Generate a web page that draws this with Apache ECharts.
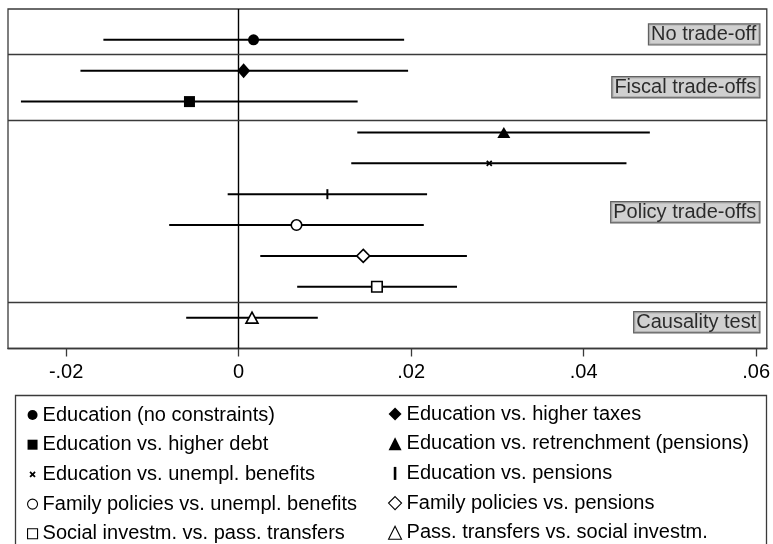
<!DOCTYPE html>
<html>
<head>
<meta charset="utf-8">
<script src="https://cdn.jsdelivr.net/npm/echarts@6/dist/echarts.min.js"></script>
<style>
html,body{margin:0;padding:0;background:#fff;}
#chart{width:773px;height:544px;}
</style>
</head>
<body>
<div id="chart"></div>
<script>
// ---- data ----
const seriesNames = [
  'Education (no constraints)',
  'Education vs. higher taxes',
  'Education vs. higher debt',
  'Education vs. retrenchment (pensions)',
  'Education vs. unempl. benefits',
  'Education vs. pensions',
  'Family policies vs. unempl. benefits',
  'Family policies vs. pensions',
  'Social investm. vs. pass. transfers',
  'Pass. transfers vs. social investm.'
];
const estimates = [0.00173, 0.00058, -0.00570, 0.03075, 0.02906, 0.01029, 0.00671, 0.01445, 0.01604, 0.00155];
const ciLow     = [-0.01568, -0.01834, -0.02524, 0.01376, 0.01306, -0.00127, -0.00805, 0.00251, 0.00679, -0.00608];
const ciHigh    = [0.01919, 0.01965, 0.01380, 0.04768, 0.04497, 0.02185, 0.02147, 0.02647, 0.02532, 0.00918];
const rowPos    = [1, 2, 3, 4, 5, 6, 7, 8, 9, 10];
const groupNames  = ['No trade-off', 'Fiscal trade-offs', 'Policy trade-offs', 'Causality test'];
const groupBounds = [0, 1.45, 3.62, 9.49, 11];
const tickValues = [-0.02, 0, 0.02, 0.04, 0.06];
const tickLabels = ['-.02', '0', '.02', '.04', '.06'];
const xMin = -0.02674, xMax = 0.06124;

// ---- styles ----
const FONT = '"Liberation Sans", Arial, Helvetica, sans-serif';
const xPath = 'path://M-3,-3M13,13M0,2L2,0L5,3L8,0L10,2L7,5L10,8L8,10L5,7L2,10L0,8L3,5Z';
const barPath = 'path://M-4,0M6,10M0,0L2,0L2,10L0,10Z';
const markerStyles = [
  {symbol: 'circle', size: 11, fill: true},
  {symbol: 'diamond', size: [13, 15], fill: true},
  {symbol: 'rect', size: 11, fill: true},
  {symbol: 'triangle', size: [13, 11], fill: true},
  {symbol: xPath, size: 10, fill: true},
  {symbol: barPath, size: 10, fill: true},
  {symbol: 'circle', size: 10.5, fill: false},
  {symbol: 'diamond', size: [13, 13], fill: false},
  {symbol: 'rect', size: 10.5, fill: false},
  {symbol: 'triangle', size: [12, 11], fill: false}
];
const labelOffsets = [3, 0, 1, -3];

const chart = echarts.init(document.getElementById('chart'), null, {renderer: 'canvas'});

const ciData = rowPos.map((y, i) => [ciLow[i], ciHigh[i], y]);

const pointSeries = seriesNames.map((name, i) => {
  const st = markerStyles[i];
  return {
    name: name,
    type: 'scatter',
    z: 5,
    symbol: st.symbol,
    symbolSize: st.size,
    symbolKeepAspect: true,
    itemStyle: st.fill
      ? {color: '#000', opacity: 1}
      : {color: '#fff', borderColor: '#000', borderWidth: 1.6, opacity: 1},
    emphasis: {disabled: true},
    data: [[estimates[i], rowPos[i]]],
    silent: true
  };
});

const groupCenters = groupNames.map((n, i) => ({
  value: [xMax, (groupBounds[i] + groupBounds[i + 1]) / 2, n],
  label: {offset: [0, labelOffsets[i]]}
}));

const legendItem = i => (markerStyles[i].fill
  ? {name: seriesNames[i]}
  : {name: seriesNames[i], itemStyle: {borderWidth: 1.1}});

const legendCommon = {
  orient: 'vertical', height: 170,
  selectedMode: false,
  textStyle: {fontSize: 20, lineHeight: 20, color: '#000', fontFamily: FONT}
};

const option = {
  animation: false,
  backgroundColor: '#fff',
  textStyle: {fontFamily: FONT},
  grid: {left: 8, top: 9, width: 761, height: 339.5, show: true, borderColor: '#3a3a3a', borderWidth: 1.3, containLabel: false},
  xAxis: {
    type: 'value', min: xMin, max: xMax,
    axisLine: {show: true, onZero: false, lineStyle: {color: '#3a3a3a', width: 1.3}},
    axisTick: {show: true, customValues: tickValues, length: 8, lineStyle: {color: '#3a3a3a', width: 1.3}},
    axisLabel: {
      customValues: tickValues, fontSize: 20, color: '#000', margin: 14, fontFamily: FONT,
      formatter: v => {
        const k = tickValues.findIndex(t => Math.abs(t - v) < 1e-9);
        return k >= 0 ? tickLabels[k] : '';
      }
    },
    splitLine: {show: false}
  },
  yAxis: {type: 'value', min: 0, max: 11, inverse: true, show: false, splitLine: {show: false}},
  legend: [
    Object.assign({data: [0, 2, 4, 6, 8].map(legendItem), left: 22, top: 400,
      itemWidth: 10, itemHeight: 10, itemGap: 9.7, itemTextGap: 12}, legendCommon),
    Object.assign({data: [1, 3, 5, 7, 9].map(legendItem), left: 383, top: 399,
      itemWidth: 13, itemHeight: 13, itemGap: 9.7, itemTextGap: 10}, legendCommon)
  ],
  graphic: [
    {type: 'rect', shape: {x: 15.5, y: 395.5, width: 751, height: 170}, style: {fill: 'none', stroke: '#3a3a3a', lineWidth: 1.3}, silent: true}
  ],
  series: [
    {
      name: 'ci', type: 'custom', z: 3, silent: true,
      encode: {x: [0, 1], y: 2},
      data: ciData,
      renderItem: (params, api) => {
        const a = api.coord([api.value(0), api.value(2)]);
        const b = api.coord([api.value(1), api.value(2)]);
        return {type: 'line', shape: {x1: a[0], y1: a[1], x2: b[0], y2: b[1]}, style: {stroke: '#000', lineWidth: 2}};
      }
    },
    {
      name: 'groups', type: 'scatter', z: 4, silent: true,
      symbolSize: 1, itemStyle: {color: 'transparent'},
      data: groupCenters,
      label: {
        show: true, position: 'left', distance: 7,
        formatter: p => p.value[2],
        fontSize: 20, lineHeight: 20, color: '#000', fontFamily: FONT,
        backgroundColor: '#c4c4c4', borderColor: '#3a3a3a', borderWidth: 1.2,
        padding: [0, 3, 0, 2]
      },
      markLine: {
        silent: true, symbol: 'none', animation: false,
        label: {show: false},
        lineStyle: {color: '#3a3a3a', width: 1.3, type: 'solid'},
        data: [{xAxis: 0, lineStyle: {color: '#000', width: 1.4}}]
          .concat(groupBounds.slice(1, -1).map(v => ({yAxis: v})))
      }
    }
  ].concat(pointSeries)
};
chart.setOption(option);
</script>
</body>
</html>
